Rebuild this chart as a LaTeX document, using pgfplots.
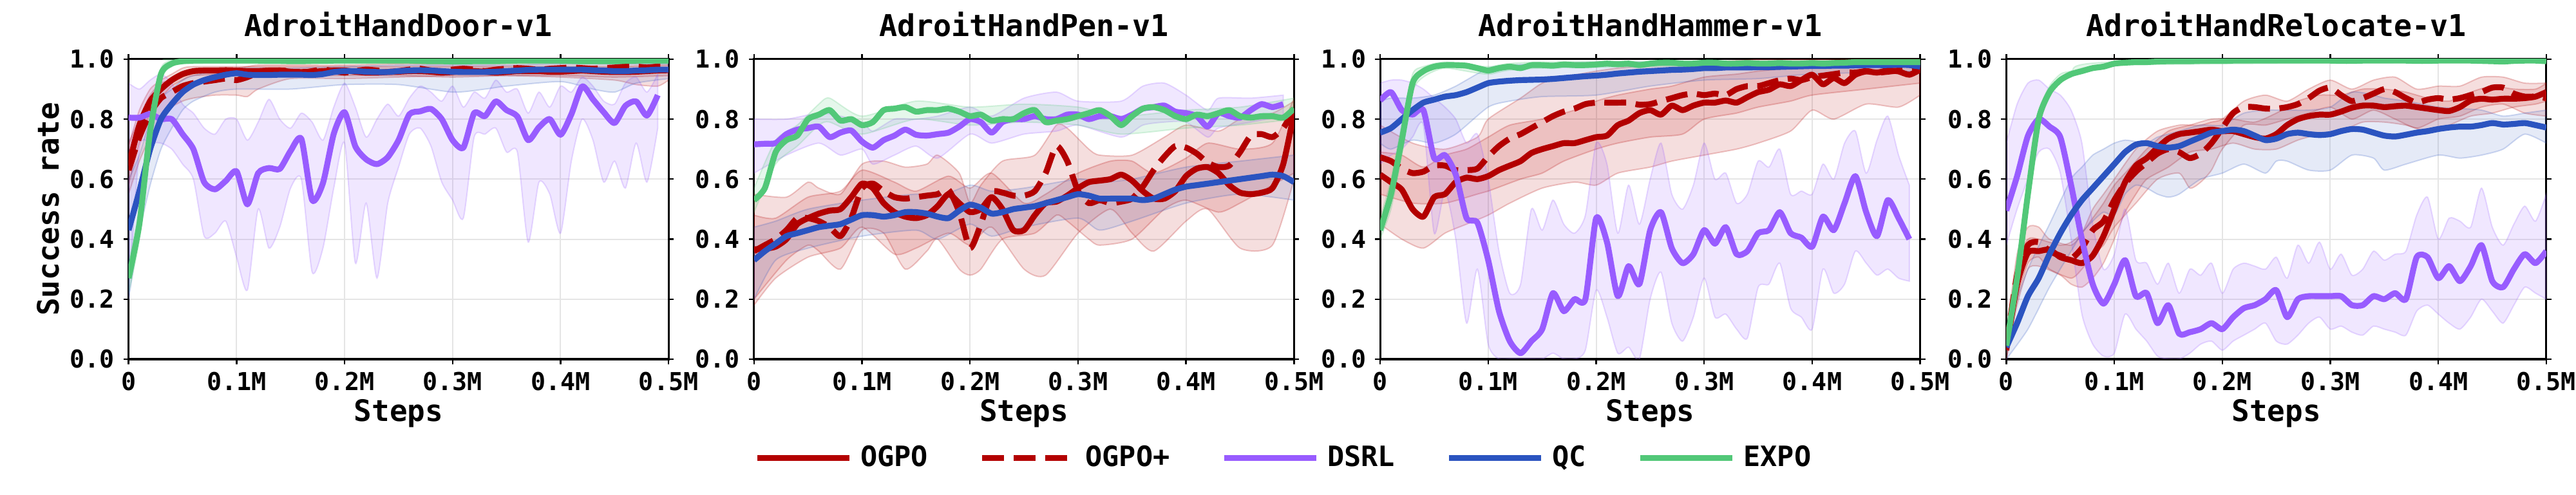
\documentclass[border=0pt]{standalone}
\usepackage{fontspec}
\setmainfont{DejaVu Sans Mono}
\usepackage{pgfplots}
\usepackage{pgfplotstable}
\pgfplotsset{compat=1.18}
\usepgfplotslibrary{fillbetween}

\definecolor{cOG}{RGB}{179,0,0}
\definecolor{cDS}{RGB}{152,92,255}
\definecolor{cQC}{RGB}{43,84,192}
\definecolor{cEX}{RGB}{82,200,120}

% ---------------- Door ----------------
\pgfplotstableread{
x og ogp ds qc ex
0 0.645 0.63 0.805 0.43 0.27
10 0.78 0.74 0.805 0.56 0.45
20 0.86 0.82 0.817 0.70 0.76
30 0.90 0.87 0.80 0.80 0.95
40 0.93 0.89 0.80 0.85 0.985
50 0.95 0.91 0.75 0.89 0.993
60 0.96 0.92 0.70 0.915 0.995
70 0.962 0.925 0.59 0.93 0.995
80 0.962 0.93 0.566 0.94 0.995
90 0.963 0.935 0.594 0.948 0.995
100 0.962 0.93 0.626 0.953 0.995
110 0.96 0.94 0.516 0.948 0.995
120 0.96 0.955 0.62 0.947 0.995
130 0.962 0.96 0.637 0.947 0.994
140 0.962 0.962 0.634 0.948 0.994
150 0.958 0.96 0.694 0.948 0.993
160 0.957 0.955 0.734 0.948 0.993
170 0.958 0.96 0.53 0.947 0.994
180 0.96 0.965 0.587 0.95 0.994
190 0.962 0.96 0.751 0.957 0.995
200 0.962 0.955 0.823 0.96 0.995
210 0.958 0.96 0.709 0.96 0.995
220 0.955 0.965 0.666 0.958 0.995
230 0.955 0.962 0.65 0.957 0.995
240 0.957 0.958 0.673 0.957 0.995
250 0.958 0.96 0.73 0.96 0.995
260 0.96 0.965 0.816 0.962 0.995
270 0.96 0.968 0.826 0.963 0.994
280 0.958 0.962 0.834 0.962 0.993
290 0.955 0.96 0.80 0.96 0.993
300 0.957 0.965 0.73 0.958 0.992
310 0.96 0.968 0.705 0.957 0.992
320 0.96 0.965 0.82 0.957 0.993
330 0.958 0.96 0.81 0.957 0.993
340 0.955 0.965 0.859 0.958 0.993
350 0.957 0.968 0.83 0.96 0.994
360 0.96 0.97 0.809 0.962 0.995
370 0.96 0.968 0.73 0.964 0.995
380 0.96 0.965 0.773 0.965 0.995
390 0.958 0.968 0.80 0.965 0.995
400 0.958 0.97 0.748 0.965 0.995
410 0.96 0.972 0.816 0.965 0.994
420 0.962 0.97 0.909 0.965 0.993
430 0.96 0.968 0.866 0.963 0.993
440 0.958 0.97 0.823 0.962 0.993
450 0.957 0.972 0.787 0.96 0.993
460 0.957 0.975 0.844 0.96 0.994
470 0.958 0.975 0.859 0.962 0.995
480 0.96 0.972 0.812 0.963 0.995
490 0.962 0.975 0.88 0.965 0.995
500 0.963 0.975 nan 0.965 0.995
}\doorM
\pgfplotstableread{
x lo hi
0 0.58 0.71
10 0.72 0.83
20 0.82 0.90
30 0.87 0.93
40 0.91 0.95
50 0.93 0.97
60 0.945 0.975
100 0.95 0.975
150 0.945 0.975
200 0.945 0.975
250 0.945 0.975
300 0.94 0.975
350 0.945 0.975
400 0.945 0.975
450 0.94 0.975
500 0.945 0.98
}\doorBog
\pgfplotstableread{
x lo hi
0 0.55 0.72
10 0.66 0.80
20 0.74 0.88
30 0.80 0.92
40 0.84 0.93
50 0.86 0.95
60 0.87 0.955
80 0.88 0.965
100 0.88 0.97
110 0.875 0.975
120 0.90 0.98
150 0.935 0.98
200 0.935 0.98
250 0.94 0.985
300 0.945 0.985
350 0.945 0.99
400 0.94 0.99
450 0.93 0.99
470 0.915 0.99
490 0.91 0.99
500 0.93 0.99
}\doorBogp
\pgfplotstableread{
x lo hi
0 0.20 0.92
10 0.70 0.90
20 0.72 0.93
30 0.72 0.95
40 0.70 0.92
50 0.65 0.85
60 0.60 0.82
70 0.41 0.77
80 0.42 0.75
90 0.46 0.80
100 0.34 0.80
110 0.23 0.73
120 0.50 0.79
130 0.37 0.866
140 0.44 0.80
150 0.57 0.77
160 0.60 0.82
170 0.29 0.79
180 0.37 0.73
190 0.57 0.84
200 0.72 0.92
210 0.32 0.84
220 0.52 0.74
230 0.27 0.80
240 0.52 0.85
250 0.64 0.81
260 0.75 0.87
270 0.77 0.91
280 0.71 0.89
290 0.59 0.86
300 0.53 0.91
310 0.47 0.84
320 0.74 0.89
330 0.75 0.87
340 0.77 0.93
350 0.69 0.89
360 0.69 0.90
370 0.39 0.82
380 0.59 0.89
390 0.55 0.84
400 0.42 0.91
410 0.66 0.89
420 0.80 0.94
430 0.73 0.91
440 0.59 0.86
450 0.66 0.85
460 0.57 0.92
470 0.72 0.94
480 0.59 0.89
490 0.77 0.95
}\doorBds
\pgfplotstableread{
x lo hi
0 0.20 0.60
10 0.42 0.68
20 0.58 0.80
30 0.70 0.87
40 0.77 0.90
50 0.83 0.93
60 0.86 0.945
80 0.89 0.96
100 0.90 0.97
150 0.90 0.97
200 0.915 0.975
250 0.915 0.98
300 0.89 0.98
330 0.90 0.98
350 0.91 0.98
400 0.925 0.985
430 0.90 0.985
450 0.89 0.985
470 0.92 0.985
500 0.935 0.985
}\doorBqc
\pgfplotstableread{
x lo hi
0 0.22 0.32
10 0.40 0.50
20 0.72 0.80
30 0.93 0.97
40 0.975 0.995
60 0.985 1.0
500 0.985 1.0
}\doorBex

% ---------------- Pen ----------------
\pgfplotstableread{
x og ogp ds qc ex
0 0.366 0.36 0.716 0.33 0.53
10 0.368 0.38 0.718 0.36 0.57
20 0.375 0.40 0.72 0.385 0.69
30 0.40 0.43 0.75 0.41 0.73
40 0.45 0.47 0.765 0.42 0.745
50 0.47 0.47 0.77 0.43 0.80
60 0.485 0.46 0.775 0.44 0.815
70 0.495 0.44 0.74 0.445 0.83
80 0.50 0.41 0.755 0.45 0.795
90 0.54 0.47 0.762 0.465 0.80
100 0.585 0.57 0.725 0.48 0.78
110 0.57 0.585 0.705 0.48 0.79
120 0.52 0.56 0.73 0.475 0.83
130 0.49 0.54 0.745 0.48 0.835
140 0.475 0.535 0.765 0.49 0.84
150 0.47 0.54 0.748 0.49 0.825
160 0.48 0.545 0.745 0.485 0.83
170 0.51 0.55 0.75 0.475 0.83
180 0.55 0.565 0.755 0.47 0.835
190 0.52 0.49 0.775 0.495 0.825
200 0.49 0.37 0.80 0.515 0.81
210 0.50 0.45 0.79 0.505 0.815
220 0.54 0.555 0.755 0.485 0.795
230 0.50 0.555 0.79 0.49 0.80
240 0.43 0.545 0.80 0.50 0.80
250 0.43 0.545 0.80 0.505 0.82
260 0.48 0.56 0.81 0.51 0.83
270 0.52 0.62 0.80 0.52 0.79
280 0.525 0.71 0.80 0.53 0.795
290 0.545 0.66 0.815 0.54 0.80
300 0.57 0.56 0.815 0.55 0.81
310 0.59 0.52 0.80 0.545 0.82
320 0.595 0.53 0.81 0.535 0.83
330 0.60 0.52 0.81 0.535 0.81
340 0.615 0.525 0.80 0.535 0.78
350 0.595 0.535 0.815 0.535 0.81
360 0.56 0.575 0.835 0.53 0.835
370 0.535 0.63 0.84 0.535 0.84
380 0.535 0.675 0.845 0.55 0.83
390 0.56 0.71 0.825 0.565 0.81
400 0.61 0.705 0.82 0.575 0.80
410 0.635 0.685 0.81 0.58 0.815
420 0.64 0.655 0.775 0.585 0.81
430 0.62 0.64 0.82 0.59 0.82
440 0.58 0.645 0.81 0.595 0.83
450 0.555 0.69 0.805 0.60 0.81
460 0.55 0.745 0.83 0.605 0.805
470 0.555 0.75 0.85 0.61 0.81
480 0.57 0.74 0.84 0.615 0.81
490 0.65 0.77 0.85 0.61 0.805
500 0.82 0.83 nan 0.59 0.835
}\penM
\pgfplotstableread{
x lo hi
0 0.18 0.48
20 0.27 0.47
50 0.34 0.54
80 0.37 0.56
100 0.44 0.63
130 0.35 0.59
150 0.37 0.56
180 0.42 0.61
200 0.38 0.57
220 0.44 0.62
250 0.30 0.52
270 0.28 0.55
300 0.42 0.62
330 0.50 0.66
350 0.42 0.66
370 0.36 0.62
400 0.46 0.67
420 0.50 0.72
450 0.37 0.70
480 0.38 0.72
500 0.60 0.87
}\penBog
\pgfplotstableread{
x lo hi
0 0.20 0.55
30 0.33 0.54
50 0.38 0.59
60 0.36 0.57
80 0.30 0.55
100 0.43 0.65
120 0.42 0.66
140 0.30 0.64
160 0.36 0.65
170 0.40 0.68
190 0.30 0.62
200 0.28 0.52
210 0.30 0.58
230 0.40 0.66
260 0.42 0.68
280 0.48 0.78
290 0.46 0.77
310 0.40 0.70
320 0.38 0.68
350 0.40 0.68
380 0.50 0.74
400 0.53 0.78
430 0.49 0.76
450 0.52 0.80
480 0.58 0.82
500 0.62 0.86
}\penBogp
\pgfplotstableread{
x lo hi
0 0.62 0.80
30 0.68 0.80
60 0.72 0.82
80 0.68 0.81
100 0.70 0.79
110 0.65 0.76
130 0.68 0.80
150 0.71 0.80
170 0.67 0.81
200 0.75 0.84
220 0.72 0.81
250 0.75 0.87
280 0.76 0.89
300 0.78 0.86
340 0.74 0.86
360 0.78 0.91
380 0.79 0.92
400 0.79 0.88
420 0.74 0.83
430 0.77 0.87
460 0.79 0.87
490 0.81 0.88
}\penBds
\pgfplotstableread{
x lo hi
0 0.20 0.44
20 0.33 0.46
50 0.37 0.50
100 0.41 0.53
150 0.43 0.55
170 0.40 0.54
200 0.45 0.58
220 0.41 0.56
250 0.44 0.57
300 0.47 0.60
320 0.43 0.59
350 0.46 0.60
400 0.52 0.64
450 0.55 0.66
500 0.53 0.68
}\penBqc
\pgfplotstableread{
x lo hi
0 0.49 0.57
20 0.65 0.73
40 0.71 0.78
60 0.78 0.85
70 0.79 0.87
100 0.75 0.81
150 0.80 0.86
200 0.78 0.84
250 0.79 0.85
300 0.78 0.84
340 0.75 0.81
400 0.77 0.83
450 0.78 0.84
500 0.80 0.87
}\penBex

% ---------------- Hammer ----------------
\pgfplotstableread{
x og ogp ds qc ex
0 0.615 0.673 0.862 0.755 0.43
10 0.59 0.66 0.89 0.77 0.55
20 0.565 0.635 0.83 0.80 0.73
30 0.50 0.62 0.815 0.83 0.92
40 0.475 0.625 0.83 0.855 0.96
50 0.54 0.645 0.67 0.865 0.975
60 0.55 0.645 0.68 0.875 0.98
70 0.59 0.63 0.615 0.88 0.98
80 0.605 0.63 0.47 0.89 0.978
90 0.60 0.635 0.455 0.905 0.97
100 0.61 0.675 0.33 0.92 0.962
110 0.63 0.71 0.16 0.925 0.97
120 0.645 0.735 0.06 0.928 0.975
130 0.66 0.75 0.02 0.93 0.97
140 0.687 0.77 0.06 0.931 0.98
150 0.70 0.79 0.10 0.932 0.98
160 0.71 0.81 0.22 0.934 0.978
170 0.72 0.825 0.16 0.937 0.982
180 0.72 0.835 0.20 0.94 0.98
190 0.73 0.85 0.20 0.943 0.98
200 0.74 0.855 0.47 0.945 0.982
210 0.745 0.855 0.39 0.948 0.985
220 0.78 0.855 0.21 0.952 0.983
230 0.795 0.855 0.31 0.955 0.985
240 0.82 0.848 0.25 0.958 0.98
250 0.83 0.85 0.43 0.96 0.985
260 0.815 0.86 0.49 0.962 0.988
270 0.845 0.87 0.37 0.964 0.988
280 0.83 0.88 0.32 0.965 0.985
290 0.845 0.885 0.35 0.967 0.985
300 0.855 0.88 0.43 0.97 0.988
310 0.855 0.885 0.385 0.97 0.988
320 0.862 0.88 0.44 0.972 0.985
330 0.855 0.90 0.35 0.972 0.985
340 0.873 0.91 0.36 0.972 0.987
350 0.89 0.91 0.42 0.973 0.985
360 0.898 0.92 0.43 0.973 0.985
370 0.916 0.93 0.49 0.974 0.987
380 0.91 0.935 0.42 0.975 0.985
390 0.93 0.93 0.405 0.976 0.985
400 0.948 0.94 0.375 0.977 0.987
410 0.916 0.945 0.475 0.977 0.985
420 0.937 0.95 0.43 0.978 0.987
430 0.92 0.955 0.52 0.978 0.988
440 0.948 0.955 0.61 0.979 0.99
450 0.959 0.96 0.49 0.98 0.99
460 0.955 0.955 0.41 0.98 0.99
470 0.962 0.958 0.53 0.98 0.99
480 0.959 0.962 0.47 0.981 0.99
490 0.948 0.965 0.40 0.98 0.99
500 0.965 0.97 nan 0.975 0.99
}\hamM
\pgfplotstableread{
x lo hi
0 0.45 0.69
20 0.40 0.68
40 0.37 0.64
60 0.42 0.68
80 0.45 0.70
100 0.48 0.74
120 0.52 0.78
150 0.57 0.80
180 0.59 0.83
200 0.58 0.86
220 0.62 0.88
250 0.64 0.90
270 0.66 0.91
300 0.68 0.94
330 0.70 0.95
350 0.72 0.96
380 0.76 0.97
400 0.83 0.98
420 0.80 0.985
450 0.85 0.99
480 0.84 0.99
500 0.88 0.99
}\hamBog
\pgfplotstableread{
x lo hi
0 0.55 0.78
30 0.52 0.72
60 0.52 0.70
90 0.55 0.74
100 0.56 0.80
130 0.60 0.87
150 0.62 0.92
170 0.66 0.94
200 0.70 0.96
220 0.72 0.97
250 0.74 0.98
280 0.75 0.985
300 0.80 0.99
330 0.82 0.995
350 0.84 1.0
380 0.86 1.0
400 0.88 1.0
450 0.90 1.0
500 0.92 1.0
}\hamBogp
\pgfplotstableread{
x lo hi
0 0.65 0.92
10 0.68 0.93
20 0.70 0.93
30 0.74 0.92
40 0.78 0.90
50 0.42 0.87
60 0.56 0.84
70 0.40 0.80
80 0.12 0.72
90 0.30 0.75
100 0.05 0.60
110 0.00 0.36
120 0.00 0.22
130 0.00 0.25
140 0.00 0.50
150 0.00 0.43
160 0.02 0.53
170 0.00 0.45
180 0.00 0.42
190 0.03 0.48
200 0.23 0.72
210 0.14 0.65
220 0.02 0.42
230 0.04 0.58
240 0.00 0.45
250 0.20 0.60
260 0.29 0.72
270 0.12 0.55
280 0.06 0.50
290 0.14 0.58
300 0.27 0.72
310 0.14 0.60
320 0.15 0.62
330 0.10 0.52
340 0.07 0.55
350 0.24 0.66
360 0.25 0.64
370 0.32 0.70
380 0.17 0.55
390 0.14 0.56
400 0.10 0.55
410 0.30 0.65
420 0.22 0.60
430 0.25 0.72
440 0.36 0.76
450 0.32 0.62
460 0.28 0.73
470 0.30 0.81
480 0.27 0.68
490 0.26 0.58
}\hamBds
\pgfplotstableread{
x lo hi
0 0.72 0.86
10 0.70 0.87
30 0.73 0.87
50 0.72 0.88
70 0.75 0.91
100 0.84 0.97
120 0.86 0.98
150 0.875 0.985
200 0.88 0.99
250 0.91 0.99
300 0.93 0.99
350 0.935 0.99
400 0.95 0.99
500 0.96 0.99
}\hamBqc
\pgfplotstableread{
x lo hi
0 0.40 0.47
10 0.50 0.60
20 0.68 0.78
30 0.89 0.95
40 0.94 0.975
60 0.97 0.99
100 0.95 0.975
150 0.97 0.99
500 0.985 0.995
}\hamBex

% ---------------- Relocate ----------------
\pgfplotstableread{
x og ogp ds qc ex
0 0.03 0.04 0.495 0.04 0.045
10 0.25 0.28 0.61 0.12 0.27
20 0.355 0.38 0.744 0.21 0.55
30 0.36 0.39 0.80 0.27 0.80
40 0.365 0.36 0.775 0.35 0.89
50 0.34 0.345 0.74 0.42 0.93
60 0.33 0.335 0.58 0.48 0.95
70 0.32 0.37 0.40 0.53 0.96
80 0.345 0.43 0.25 0.57 0.97
90 0.41 0.46 0.185 0.61 0.975
100 0.50 0.53 0.25 0.65 0.985
110 0.59 0.585 0.33 0.69 0.988
120 0.645 0.625 0.21 0.715 0.99
130 0.67 0.655 0.22 0.72 0.99
140 0.705 0.685 0.12 0.71 0.992
150 0.735 0.70 0.18 0.705 0.993
160 0.75 0.69 0.085 0.71 0.993
170 0.755 0.67 0.09 0.725 0.993
180 0.76 0.685 0.10 0.74 0.994
190 0.765 0.72 0.12 0.755 0.994
200 0.76 0.77 0.10 0.76 0.994
210 0.76 0.82 0.14 0.765 0.995
220 0.75 0.84 0.17 0.76 0.995
230 0.74 0.84 0.18 0.745 0.995
240 0.735 0.835 0.20 0.73 0.995
250 0.75 0.835 0.23 0.735 0.995
260 0.78 0.84 0.14 0.75 0.995
270 0.80 0.85 0.20 0.755 0.995
280 0.81 0.87 0.21 0.75 0.995
290 0.815 0.895 0.21 0.747 0.995
300 0.815 0.905 0.21 0.75 0.995
310 0.825 0.88 0.21 0.76 0.994
320 0.838 0.86 0.18 0.767 0.994
330 0.845 0.87 0.18 0.765 0.995
340 0.845 0.885 0.21 0.755 0.995
350 0.84 0.90 0.20 0.745 0.995
360 0.843 0.89 0.22 0.742 0.995
370 0.845 0.87 0.20 0.748 0.995
380 0.84 0.855 0.34 0.755 0.994
390 0.835 0.865 0.34 0.76 0.994
400 0.83 0.87 0.27 0.767 0.995
410 0.827 0.865 0.31 0.772 0.995
420 0.84 0.87 0.26 0.775 0.995
430 0.862 0.88 0.31 0.775 0.995
440 0.868 0.89 0.38 0.78 0.994
450 0.865 0.905 0.26 0.787 0.993
460 0.868 0.905 0.24 0.782 0.992
470 0.868 0.885 0.30 0.784 0.994
480 0.87 0.875 0.35 0.787 0.995
490 0.875 0.875 0.32 0.78 0.995
500 0.89 0.87 0.36 0.772 0.993
}\relM
\pgfplotstableread{
x lo hi
0 0.0 0.06
10 0.18 0.32
20 0.30 0.40
30 0.31 0.40
50 0.28 0.38
60 0.25 0.39
70 0.24 0.42
80 0.27 0.47
90 0.32 0.52
100 0.40 0.58
110 0.49 0.62
120 0.55 0.66
130 0.60 0.70
150 0.64 0.76
170 0.69 0.78
190 0.70 0.80
210 0.72 0.80
230 0.70 0.79
250 0.70 0.82
270 0.73 0.86
290 0.75 0.88
310 0.76 0.88
330 0.79 0.90
350 0.79 0.90
370 0.78 0.89
390 0.76 0.87
410 0.78 0.86
430 0.81 0.89
450 0.82 0.91
470 0.84 0.90
490 0.85 0.90
500 0.86 0.92
}\relBog
\pgfplotstableread{
x lo hi
0 0.0 0.08
10 0.20 0.35
20 0.32 0.44
30 0.34 0.44
40 0.30 0.40
60 0.27 0.38
70 0.30 0.42
80 0.35 0.50
90 0.38 0.55
100 0.44 0.60
120 0.52 0.70
140 0.60 0.76
160 0.62 0.78
170 0.57 0.78
180 0.59 0.78
190 0.63 0.79
200 0.70 0.80
220 0.78 0.86
240 0.78 0.88
260 0.80 0.86
280 0.82 0.90
300 0.84 0.93
320 0.80 0.90
340 0.83 0.93
360 0.80 0.94
380 0.77 0.90
400 0.80 0.91
420 0.81 0.91
440 0.84 0.94
460 0.85 0.94
480 0.82 0.92
500 0.81 0.92
}\relBogp
\pgfplotstableread{
x lo hi
0 0.38 0.72
10 0.50 0.85
20 0.60 0.92
30 0.69 0.93
40 0.70 0.90
50 0.62 0.88
60 0.40 0.83
70 0.15 0.72
80 0.05 0.45
90 0.01 0.30
100 0.02 0.35
110 0.15 0.50
120 0.10 0.33
130 0.06 0.32
140 0.01 0.25
150 0.00 0.32
160 0.00 0.22
170 0.02 0.30
180 0.05 0.28
190 0.06 0.32
200 0.03 0.22
210 0.06 0.30
220 0.08 0.32
230 0.10 0.31
240 0.12 0.30
250 0.06 0.34
260 0.05 0.27
270 0.08 0.38
280 0.12 0.32
290 0.14 0.39
300 0.10 0.30
310 0.11 0.35
320 0.09 0.28
330 0.08 0.30
340 0.11 0.36
350 0.10 0.33
360 0.09 0.35
370 0.08 0.36
380 0.16 0.48
390 0.18 0.54
400 0.15 0.40
410 0.12 0.47
420 0.10 0.46
430 0.14 0.44
440 0.20 0.57
450 0.16 0.44
460 0.12 0.38
470 0.18 0.45
480 0.24 0.51
490 0.22 0.46
500 0.20 0.55
}\relBds
\pgfplotstableread{
x lo hi
0 0.0 0.10
20 0.10 0.30
40 0.24 0.45
60 0.36 0.60
70 0.42 0.64
80 0.46 0.68
90 0.49 0.70
100 0.48 0.72
110 0.55 0.73
120 0.58 0.725
130 0.57 0.72
140 0.55 0.74
150 0.54 0.75
160 0.55 0.76
180 0.60 0.78
200 0.62 0.78
220 0.65 0.82
240 0.62 0.83
250 0.66 0.83
260 0.66 0.83
280 0.63 0.83
300 0.63 0.84
320 0.68 0.89
340 0.67 0.88
350 0.63 0.87
370 0.65 0.86
400 0.68 0.84
420 0.67 0.835
440 0.68 0.83
460 0.70 0.81
480 0.75 0.82
500 0.72 0.83
}\relBqc
\pgfplotstableread{
x lo hi
0 0.02 0.07
10 0.24 0.30
20 0.52 0.58
30 0.78 0.82
40 0.88 0.91
50 0.92 0.95
60 0.94 0.96
100 0.98 0.99
500 0.99 0.997
}\relBex

\newcommand{\bandplot}[4]{% table, color, id, opacity
  \addplot[name path=#3u, draw=none, forget plot, smooth, tension=0.4] table[x=x,y=hi]{#1};
  \addplot[name path=#3l, draw=none, forget plot, smooth, tension=0.4] table[x=x,y=lo]{#1};
  \addplot[fill=#2, fill opacity=#4, draw=#2, draw opacity=0.22, line width=0.5pt, forget plot] fill between[of=#3u and #3l];
}
\newcommand{\allbands}[6]{% og ogp ds qc ex prefix
  \bandplot{#1}{cOG}{#6a}{0.13}
  \bandplot{#2}{cOG}{#6b}{0.13}
  \bandplot{#3}{cDS}{#6c}{0.15}
  \bandplot{#4}{cQC}{#6d}{0.12}
  \bandplot{#5}{cEX}{#6e}{0.15}
}
\newcommand{\alllines}[1]{%
  \addplot[cOG, line width=2.3pt, line join=round, smooth, tension=0.4] table[x=x,y=og]{#1};
  \addplot[cOG, line width=2.3pt, line join=round, smooth, tension=0.4, dash pattern=on 8.5pt off 3.7pt] table[x=x,y=ogp]{#1};
  \addplot[cDS, line width=2.3pt, line join=round, smooth, tension=0.4] table[x=x,y=ds]{#1};
  \addplot[cQC, line width=2.3pt, line join=round, smooth, tension=0.4] table[x=x,y=qc]{#1};
  \addplot[cEX, line width=2.3pt, line join=round, smooth, tension=0.4] table[x=x,y=ex]{#1};
}

\pgfplotsset{
  adroit/.style={
    scale only axis, width=210pt, height=116.75pt,
    anchor=south west,
    xmin=0, xmax=500, ymin=0, ymax=1,
    xtick={0,100,200,300,400,500},
    xticklabels={0,0.1M,0.2M,0.3M,0.4M,0.5M},
    ytick={0,0.2,0.4,0.6,0.8,1.0},
    yticklabel style={/pgf/number format/fixed, /pgf/number format/fixed zerofill, /pgf/number format/precision=1},
    /pgf/number format/assume math mode=true,
    tick label style={font=\fontsize{9.6}{11}\selectfont\bfseries},
    xticklabel style={anchor=base, inner sep=0pt, yshift=-10.1pt},
    yticklabel style={anchor=east, inner sep=0pt, xshift=-3.3pt},
    tick align=outside, major tick length=2pt,
    tick style={black, line width=0.6pt},
    axis line style={line width=0.8pt},
    grid=major, major grid style={line width=0.5pt, black!10},
    title style={font=\fontsize{11.7}{13}\selectfont\bfseries, at={(0.5,1)}, anchor=base, yshift=2.75pt, inner sep=0pt},
    label style={font=\fontsize{11.5}{13}\selectfont\bfseries},
    xlabel={Steps},
    xlabel style={at={(axis description cs:0.5,0)}, anchor=base, yshift=-24.25pt, inner sep=0pt},
  }
}

\begin{document}
\begin{tikzpicture}

\begin{axis}[adroit, at={(50pt,52.75pt)}, title={AdroitHandDoor-v1},
  ylabel={Success rate},
  ylabel style={at={([xshift=-27pt]axis description cs:0,0.5)}, anchor=base, inner sep=0pt},
  legend columns=5,
  legend style={at={(2.1375,-0.3298)}, anchor=center, draw=none, fill=none,
    font=\fontsize{10.9}{12}\selectfont\bfseries,
    nodes={inner sep=0pt},
    /tikz/every odd column/.append style={column sep=3.2pt},
    /tikz/every even column/.append style={column sep=20pt}},
  legend image code/.code={\draw[#1, sharp plot] (0pt,0pt) -- (35.75pt,0pt);},
]
\allbands{\doorBog}{\doorBogp}{\doorBds}{\doorBqc}{\doorBex}{door}
\alllines{\doorM}
\legend{OGPO,OGPO+,DSRL,QC,EXPO}
\end{axis}

\begin{axis}[adroit, at={(293.25pt,52.75pt)}, title={AdroitHandPen-v1}]
\allbands{\penBog}{\penBogp}{\penBds}{\penBqc}{\penBex}{pen}
\alllines{\penM}
\end{axis}

\begin{axis}[adroit, at={(536.75pt,52.75pt)}, title={AdroitHandHammer-v1}]
\allbands{\hamBog}{\hamBogp}{\hamBds}{\hamBqc}{\hamBex}{ham}
\alllines{\hamM}
\end{axis}

\begin{axis}[adroit, at={(780.25pt,52.75pt)}, title={AdroitHandRelocate-v1}]
\allbands{\relBog}{\relBogp}{\relBds}{\relBqc}{\relBex}{rel}
\alllines{\relM}
\end{axis}

\path (0,0) rectangle (1000pt,192.5pt);
\end{tikzpicture}
\end{document}
